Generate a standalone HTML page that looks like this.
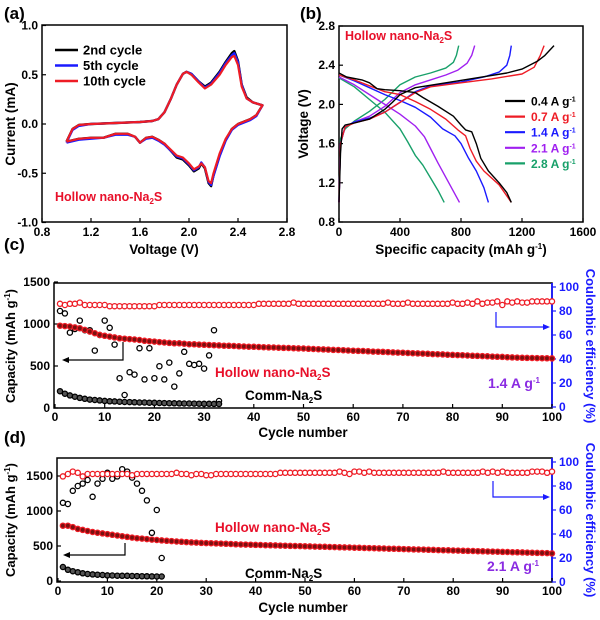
<!DOCTYPE html>
<html><head><meta charset="utf-8">
<style>
html,body{margin:0;padding:0;background:#fff;}
svg{display:block;font-family:"Liberation Sans",Arial,sans-serif;font-weight:bold;}
</style></head>
<body>
<svg id="fig" width="600" height="620" viewBox="0 0 600 620" xmlns="http://www.w3.org/2000/svg">
<text x="4" y="19" font-size="17">(a)</text>
<text x="300" y="19" font-size="17">(b)</text>
<text x="4" y="250" font-size="17">(c)</text>
<text x="4" y="443" font-size="17">(d)</text>
<rect x="42" y="25" width="245" height="197" fill="none" stroke="#000" stroke-width="1.5"/>
<rect x="339" y="26" width="244" height="196" fill="none" stroke="#000" stroke-width="1.5"/>
<rect x="54" y="283" width="498" height="125" fill="none" stroke="#000" stroke-width="1.5"/>
<line x1="552" y1="283" x2="552" y2="408" stroke="#1a1aff" stroke-width="1.8"/>
<rect x="57" y="458" width="495" height="124" fill="none" stroke="#000" stroke-width="1.5"/>
<line x1="552" y1="458" x2="552" y2="582" stroke="#1a1aff" stroke-width="1.8"/>
<text transform="translate(15,124) rotate(-90)" text-anchor="middle" font-size="13.5">Current (mA)</text>
<text x="164" y="254" text-anchor="middle" font-size="13.5">Voltage (V)</text>
<text transform="translate(308,124) rotate(-90)" text-anchor="middle" font-size="13.5">Voltage (V)</text>
<text x="461" y="254" text-anchor="middle" font-size="13.5">Specific capacity (mAh g<tspan font-size="8" dy="-5">-1</tspan><tspan dy="5">)</tspan></text>
<text transform="translate(15,346) rotate(-90)" text-anchor="middle" font-size="13">Capacity (mAh g<tspan font-size="8" dy="-5">-1</tspan><tspan dy="5">)</tspan></text>
<text transform="translate(586,346) rotate(90)" text-anchor="middle" font-size="13" fill="#1a1aff">Coulombic efficiency (%)</text>
<text x="303" y="437" text-anchor="middle" font-size="13.5">Cycle number</text>
<text transform="translate(15,520) rotate(-90)" text-anchor="middle" font-size="13">Capacity (mAh g<tspan font-size="8" dy="-5">-1</tspan><tspan dy="5">)</tspan></text>
<text transform="translate(586,520) rotate(90)" text-anchor="middle" font-size="13" fill="#1a1aff">Coulombic efficiency (%)</text>
<text x="303" y="612" text-anchor="middle" font-size="13.5">Cycle number</text>
<text x="55" y="201" font-size="12.5" fill="#e8102a">Hollow nano-Na<tspan font-size="8" dy="3">2</tspan><tspan dy="-3">S</tspan></text>
<text x="345" y="40" font-size="12.5" fill="#e8102a">Hollow nano-Na<tspan font-size="8" dy="3">2</tspan><tspan dy="-3">S</tspan></text>
<text x="215" y="377" font-size="13.5" fill="#e8102a">Hollow nano-Na<tspan font-size="8" dy="3">2</tspan><tspan dy="-3">S</tspan></text>
<text x="245" y="400" font-size="13.5" fill="#000">Comm-Na<tspan font-size="8" dy="3">2</tspan><tspan dy="-3">S</tspan></text>
<text x="488" y="388" font-size="14" fill="#8a2be2">1.4 A g<tspan font-size="8" dy="-5">-1</tspan></text>
<text x="215" y="532" font-size="13.5" fill="#e8102a">Hollow nano-Na<tspan font-size="8" dy="3">2</tspan><tspan dy="-3">S</tspan></text>
<text x="245" y="578" font-size="13.5" fill="#000">Comm-Na<tspan font-size="8" dy="3">2</tspan><tspan dy="-3">S</tspan></text>
<text x="487" y="571" font-size="14" fill="#8a2be2">2.1 A g<tspan font-size="8" dy="-5">-1</tspan></text>
<polyline points="123,342 123,360 66,360" fill="none" stroke="#000" stroke-width="1.2"/>
<polygon points="62,360 69,357 69,363" fill="#000"/>
<polyline points="496,312 496,327 545,327" fill="none" stroke="#1a1aff" stroke-width="1.2"/>
<polygon points="550,327 543,324 543,330" fill="#1a1aff"/>
<polyline points="125,543 125,555 67,555" fill="none" stroke="#000" stroke-width="1.2"/>
<polygon points="63,555 70,552 70,558" fill="#000"/>
<polyline points="493,481 493,497 545,497" fill="none" stroke="#1a1aff" stroke-width="1.2"/>
<polygon points="550,497 543,494 543,500" fill="#1a1aff"/>
<g id="marks"></g>
</svg>
<script>
const cvV = [1.0,1.05,1.1,1.2,1.4,1.6,1.7,1.75,1.8,1.85,1.9,1.95,1.98,2.02,2.08,2.13,2.18,2.25,2.3,2.35,2.37,2.4,2.43,2.47,2.52,2.6,
 2.55,2.5,2.4,2.35,2.3,2.25,2.2,2.18,2.16,2.13,2.1,2.08,2.04,2.0,1.95,1.9,1.85,1.8,1.75,1.7,1.65,1.6,1.56,1.5,1.4,1.3,1.2,1.1,1.0];
const cv2nd = [-0.18,-0.05,-0.01,0.0,0.01,0.02,0.03,0.05,0.12,0.25,0.40,0.51,0.53,0.51,0.43,0.38,0.42,0.53,0.63,0.72,0.74,0.64,0.40,0.27,0.22,0.19,
 0.09,0.05,0.0,-0.05,-0.16,-0.32,-0.52,-0.63,-0.60,-0.45,-0.40,-0.45,-0.48,-0.42,-0.36,-0.34,-0.27,-0.2,-0.16,-0.13,-0.14,-0.19,-0.13,-0.1,-0.1,-0.14,-0.14,-0.15,-0.18];
const cv5th = [-0.19,-0.06,-0.02,0.0,0.01,0.02,0.03,0.05,0.12,0.25,0.40,0.51,0.53,0.51,0.43,0.37,0.41,0.52,0.62,0.70,0.72,0.63,0.40,0.26,0.22,0.19,
 0.08,0.04,-0.01,-0.06,-0.17,-0.33,-0.53,-0.62,-0.59,-0.44,-0.39,-0.44,-0.47,-0.41,-0.35,-0.33,-0.27,-0.21,-0.17,-0.14,-0.15,-0.19,-0.13,-0.11,-0.11,-0.14,-0.15,-0.16,-0.19];
const cv10th = [-0.18,-0.05,-0.01,0.0,0.01,0.02,0.03,0.05,0.12,0.25,0.40,0.51,0.53,0.50,0.42,0.36,0.40,0.50,0.60,0.68,0.69,0.60,0.38,0.26,0.22,0.19,
 0.09,0.05,0.0,-0.05,-0.15,-0.30,-0.50,-0.60,-0.58,-0.44,-0.40,-0.43,-0.46,-0.40,-0.34,-0.32,-0.26,-0.2,-0.16,-0.13,-0.14,-0.19,-0.13,-0.1,-0.1,-0.14,-0.14,-0.15,-0.18];
const aXTicks = [0.8,1.2,1.6,2.0,2.4,2.8];
const aYTicks = [1.0,0.5,0.0,-0.5,-1.0];

const bRates = ["0.4","0.7","1.4","2.1","2.8"];
const dis04C=[0,50,150,200,250,300,400,500,550,650,750,800,830,870,900,930,980,1050,1100,1130];
const dis04V=[2.32,2.28,2.25,2.22,2.16,2.15,2.14,2.12,2.07,1.98,1.88,1.79,1.74,1.72,1.6,1.45,1.32,1.2,1.1,1.0];
const chg04C=[0,10,20,40,100,200,300,350,400,500,700,900,1100,1200,1300,1350,1410];
const chg04V=[1.0,1.5,1.75,1.79,1.81,1.85,1.95,2.02,2.10,2.17,2.22,2.27,2.32,2.36,2.44,2.5,2.6];
const dis07C=[0,100,200,300,400,500,600,700,780,830,860,900,950,1050,1130];
const dis07V=[2.3,2.25,2.19,2.13,2.1,2.03,1.95,1.85,1.74,1.68,1.55,1.42,1.32,1.18,1.0];
const chg07C=[0,10,40,100,200,300,400,500,600,800,1000,1200,1280,1320,1345];
const chg07V=[1.0,1.6,1.77,1.81,1.85,1.92,2.02,2.12,2.18,2.22,2.26,2.31,2.38,2.5,2.6];
const dis14C=[0,100,200,300,400,500,600,680,760,800,850,900,950,980];
const dis14V=[2.3,2.24,2.17,2.1,2.04,1.97,1.87,1.75,1.68,1.6,1.45,1.32,1.15,1.0];
const chg14C=[0,10,40,100,200,300,400,500,600,800,950,1050,1100,1120,1130];
const chg14V=[1.0,1.6,1.77,1.82,1.86,1.92,2.02,2.13,2.19,2.23,2.28,2.33,2.4,2.5,2.6];
const dis21C=[0,100,200,300,400,500,560,600,650,720,790];
const dis21V=[2.28,2.2,2.1,2.0,1.9,1.78,1.67,1.55,1.4,1.2,1.0];
const chg21C=[0,10,40,100,200,300,400,500,600,700,780,840,870,890];
const chg21V=[1.0,1.6,1.77,1.82,1.88,1.98,2.12,2.2,2.25,2.3,2.35,2.42,2.5,2.6];
const dis28C=[0,100,200,300,400,450,500,550,600,650,690];
const dis28V=[2.27,2.18,2.05,1.92,1.75,1.62,1.48,1.38,1.25,1.12,1.0];
const chg28C=[0,10,40,100,200,300,400,500,600,700,750,770,785];
const chg28V=[1.0,1.65,1.75,1.83,1.93,2.05,2.2,2.28,2.32,2.37,2.43,2.5,2.6];
const bXTicks=[0,400,800,1200,1600];
const bYTicks=[0.8,1.2,1.6,2.0,2.4,2.8];

const cHollowCap=[980,975,970,960,950,930,910,890,870,860,850,840,830,825,820,815,810,800,795,790,
785,780,775,770,770,765,760,758,755,752,750,748,745,742,740,738,735,732,730,728,
726,724,722,720,718,716,714,712,710,708,705,702,700,698,695,692,690,688,685,682,
680,678,675,672,670,668,665,662,660,658,655,652,650,648,645,642,640,638,635,632,
630,628,625,622,620,618,615,612,610,608,605,602,600,598,596,595,594,593,592,590];
const cHollowCE=[86,85,86,86,87,85,85,85,85,85,84,84,84,84,84,84,84,84,84,84,
85,85,85,85,85,85,85,85,85,85,85,85,85,85,85,85,85,85,85,85,
86,86,86,86,86,86,86,87,86,86,86,86,86,86,86,86,86,86,86,86,
86,86,86,86,86,86,87,86,86,86,87,86,86,86,86,86,86,86,86,87,
86,86,87,86,88,86,87,87,88,85,88,87,88,87,87,88,88,88,88,88];
const cCommCap=[200,170,150,135,120,110,100,95,90,85,80,78,75,72,70,68,66,65,63,62,60,58,57,56,55,54,53,52,51,50,50,49,48];
const cCommCE=[80,78,62,65,72,64,64,47,60,72,66,52,24,10,29,27,49,23,49,24,34,23,37,17,28,46,36,35,36,32,43,64,5];
const cYTicks=[0,500,1000,1500];
const cY2Ticks=[0,20,40,60,80,100];
const cycTicks=[0,10,20,30,40,50,60,70,80,90,100];

const dHollowCap=[790,790,770,745,730,715,700,690,680,670,660,650,640,630,620,612,605,598,592,586,
580,575,570,565,560,556,552,548,545,542,540,537,534,531,528,525,522,520,518,516,
514,512,510,508,506,504,502,500,498,496,494,492,490,488,486,484,482,480,478,476,
474,472,470,468,466,464,462,460,458,456,454,452,450,448,446,444,442,440,438,436,
434,432,430,428,426,424,422,420,418,416,414,412,410,408,406,404,402,400,398,395];
const dHollowCE=[88,90,92,91,88,90,90,90,90,90,90,90,90,90,89,90,90,90,90,90,
90,90,90,91,90,90,89,90,90,89,89,90,90,90,90,90,90,90,90,90,
90,90,90,90,91,91,91,91,91,91,91,91,91,91,91,91,92,91,90,92,
92,91,92,91,91,91,91,91,91,91,91,91,91,91,91,91,91,92,91,91,
91,91,91,91,91,92,91,92,91,92,91,91,91,91,91,92,92,92,91,92];
const dCommCap=[200,160,140,125,110,100,95,90,85,80,78,76,75,74,72,70,68,67,66,65,64];
const dCommCE=[66,65,76,80,82,85,71,82,86,91,86,88,94,92,87,82,76,68,41,60,20];
const dYTicks=[0,500,1000,1500];
const dY2Ticks=[0,20,40,60,80,100];

const aX=v=>42+(v-0.8)/2.0*245, aY=v=>124-v*98.5;
const bX=v=>339+v*0.1525, bY=v=>222-(v-0.8)*98;
const cX=v=>55+v*4.97, cYL=v=>408-v*0.084, cYR=v=>407-v*1.2;
const dX=v=>58+v*4.94, dYL=v=>581-v*0.07, dYR=v=>582-v*1.2;

const NS="http://www.w3.org/2000/svg";
const root=document.getElementById('marks');
function el(tag,attrs){const e=document.createElementNS(NS,tag);for(const k in attrs)e.setAttribute(k,attrs[k]);root.appendChild(e);return e;}

function drawPath(xs,ys,fx,fy,color,name,w){
  const d=xs.map((x,i)=>(i?'L':'M')+fx(x).toFixed(1)+','+fy(ys[i]).toFixed(1)).join(' ');
  const p=el('path',{d:d,fill:'none',stroke:color,'stroke-width':w,'stroke-linejoin':'round'});
  
  
}
function tickLabel(x,y,txt,anchor,color,name){
  const t=el('text',{x:x,y:y,'text-anchor':anchor,'font-size':12,fill:color||'#000'});
  t.textContent=txt;
  
  
}
function tick(x1,y1,x2,y2,color,name){
  const l=el('line',{x1:x1,y1:y1,x2:x2,y2:y2,stroke:color||'#000','stroke-width':1.2});
  
  
}

aXTicks.forEach(v=>{tick(aX(v),222,aX(v),218,'#000','a-x-tick');tickLabel(aX(v),236,v.toFixed(1),'middle','#000','a-x-tick-label');});
aYTicks.forEach(v=>{tick(42,aY(v),46,aY(v),'#000','a-y-tick');tickLabel(38,aY(v)+4,v.toFixed(1),'end','#000','a-y-tick-label');});
drawPath(cvV,cv2nd,aX,aY,'#000','cv-2nd-cycle',2.4);
drawPath(cvV,cv5th,aX,aY,'#1a1aff','cv-5th-cycle',2.2);
drawPath(cvV,cv10th,aX,aY,'#ee1c25','cv-10th-cycle',2.2);
const aLeg=[['2nd cycle','#000'],['5th cycle','#1a1aff'],['10th cycle','#ee1c25']];
aLeg.forEach((L,i)=>{
  const y=50+i*15.5;
  const ln=el('line',{x1:55,y1:y,x2:78,y2:y,stroke:L[1],'stroke-width':2.5});
  
  
  const t=el('text',{x:83,y:y+4.5,'font-size':13});
  t.textContent=L[0];
  
  
});

bXTicks.forEach(v=>{tick(bX(v),222,bX(v),218,'#000','b-x-tick');tickLabel(bX(v),236,String(v),'middle','#000','b-x-tick-label');});
bYTicks.forEach(v=>{tick(339,bY(v),343,bY(v),'#000','b-y-tick');tickLabel(335,bY(v)+4,v.toFixed(1),'end','#000','b-y-tick-label');});
const bColors=['#000','#ee1c25','#1a1aff','#a020f0','#18a06a'];
const bData=[[dis04C,dis04V,chg04C,chg04V],[dis07C,dis07V,chg07C,chg07V],[dis14C,dis14V,chg14C,chg14V],[dis21C,dis21V,chg21C,chg21V],[dis28C,dis28V,chg28C,chg28V]];
for(let i=4;i>=0;i--){
  drawPath(bData[i][0],bData[i][1],bX,bY,bColors[i],'discharge-'+bRates[i],1.4);
  drawPath(bData[i][2],bData[i][3],bX,bY,bColors[i],'charge-'+bRates[i],1.4);
}
bRates.forEach((r,i)=>{
  const y=101+i*15.6;
  const ln=el('line',{x1:505,y1:y,x2:525,y2:y,stroke:bColors[i],'stroke-width':2.2});
  
  
  const t=el('text',{x:531,y:y+4.5,'font-size':12,fill:bColors[i]});
  t.innerHTML=r+' A g<tspan font-size="7" dy="-4">-1</tspan>';
  
  
});

function circles(vals,fx,fy,color,name,fill){
  vals.forEach((v,i)=>{
    const c=el('circle',{cx:fx(i+1).toFixed(1),cy:fy(v).toFixed(1),r:2.6,fill:fill,stroke:color,'stroke-width':1.3});
    
    
  });
}
function cyclePanel(p,fx,fyL,fyR,yT,y2T,bottom,top,left,hollowCap,hollowCE,commCap,commCE){
  cycTicks.forEach(v=>{tick(fx(v),bottom,fx(v),bottom-4,'#000',p+'-x-tick');tickLabel(fx(v),bottom+13,String(v),'middle','#000',p+'-x-tick-label');});
  yT.forEach(v=>{tick(left,fyL(v),left+4,fyL(v),'#000',p+'-y-tick');tickLabel(left-4,fyL(v)+4,String(v),'end','#000',p+'-y-tick-label');});
  y2T.forEach(v=>{tick(552,fyR(v),556,fyR(v),'#1a1aff',p+'-y2-tick');tickLabel(559,fyR(v)+4,String(v),'start','#1a1aff',p+'-y2-tick-label');});
  circles(commCE,fx,fyR,'#000',p+'-comm-ce-point','none');
  circles(hollowCE,fx,fyR,'#ee1c25',p+'-hollow-ce-point','#fff');
  circles(hollowCap,fx,fyL,'#ee1c25',p+'-hollow-capacity-point','#7a1010');
  circles(commCap,fx,fyL,'#000',p+'-comm-capacity-point','#555');
}
cyclePanel('c',cX,cYL,cYR,cYTicks,cY2Ticks,408,283,54,cHollowCap,cHollowCE,cCommCap,cCommCE);
cyclePanel('d',dX,dYL,dYR,dYTicks,dY2Ticks,582,458,57,dHollowCap,dHollowCE,dCommCap,dCommCE);
</script>
</body></html>
